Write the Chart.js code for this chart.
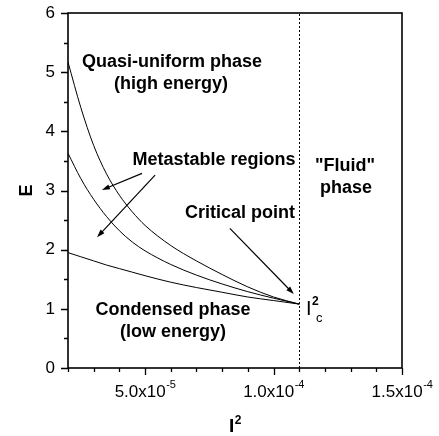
<!DOCTYPE html>
<html>
<head>
<meta charset="utf-8">
<script src="https://cdn.jsdelivr.net/npm/chart.js@4"></script>
<style>
  html, body { margin: 0; padding: 0; background: #fff; }
  canvas { display: block; }
</style>
</head>
<body>
<canvas id="c" width="439" height="436"></canvas>
<script>
// ---- data ----
const xValues = [2.0e-5, 2.5e-5, 3.0e-5, 3.5e-5, 4.0e-5, 4.5e-5, 5.0e-5, 6.0e-5, 7.0e-5, 8.0e-5, 9.0e-5, 1.0e-4, 1.1e-4];
const upperE  = [5.17, 4.40, 3.76, 3.28, 2.92, 2.64, 2.41, 2.07, 1.81, 1.58, 1.37, 1.20, 1.08];
const middleE = [3.63, 3.20, 2.85, 2.56, 2.32, 2.13, 1.98, 1.75, 1.57, 1.42, 1.29, 1.18, 1.08];
const lowerE  = [1.95, 1.88, 1.81, 1.74, 1.68, 1.62, 1.56, 1.45, 1.36, 1.28, 1.20, 1.14, 1.08];
const criticalI2 = 1.1e-4;
const xTickLabels = [[5e-5, '5.0', '-5'], [1e-4, '1.0', '-4'], [1.5e-4, '1.5', '-4']];
const yTickLabels = ['0', '1', '2', '3', '4', '5', '6'];
const textNotes = [
  ['Quasi-uniform phase', 6.05e-5, 5.17],
  ['(high energy)', 6.01e-5, 4.80],
  ['Metastable regions', 7.68e-5, 3.52],
  ['Critical point', 8.69e-5, 2.62],
  ['"Fluid"', 1.278e-4, 3.41],
  ['phase', 1.282e-4, 3.04],
  ['Condensed phase', 6.09e-5, 0.98],
  ['(low energy)', 6.09e-5, 0.61]
];
const arrowNotes = [
  [4.88e-5, 3.29, 3.32e-5, 3.01],
  [5.39e-5, 3.26, 3.13e-5, 2.21],
  [8.30e-5, 2.36, 1.079e-4, 1.25]
];

const FONT = '"Liberation Sans", Arial, Helvetica, sans-serif';
const pts = arr => xValues.map((x, i) => ({x: x, y: arr[i]}));

const decor = {
  id: 'decor',
  afterDraw(chart) {
    const ctx = chart.ctx, xs = chart.scales.x, ys = chart.scales.y, ca = chart.chartArea;
    ctx.save();
    ctx.strokeStyle = '#000';
    ctx.fillStyle = '#000';
    // frame
    ctx.lineWidth = 1.6;
    ctx.strokeRect(ca.left, ca.top, ca.right - ca.left, ca.bottom - ca.top);
    // ticks
    ctx.lineWidth = 1.3;
    ctx.beginPath();
    for (let k = 2; k <= 15; k++) {
      const px = Math.round(xs.getPixelForValue(k * 1e-5)) + 0.5;
      const len = (k % 5 === 0) ? 7 : 4;
      ctx.moveTo(px, ca.bottom); ctx.lineTo(px, ca.bottom + len);
    }
    for (let k = 0; k <= 12; k++) {
      const py = Math.round(ys.getPixelForValue(k * 0.5)) + 0.5;
      const len = (k % 2 === 0) ? 7 : 4;
      ctx.moveTo(ca.left, py); ctx.lineTo(ca.left - len, py);
    }
    ctx.stroke();
    // x tick labels with superscripts
    ctx.textBaseline = 'alphabetic';
    ctx.textAlign = 'left';
    xTickLabels.forEach(([v, m, e]) => {
      const main = m + 'x10';
      ctx.font = '17px ' + FONT;
      const w1 = ctx.measureText(main).width;
      ctx.font = '11px ' + FONT;
      const w2 = ctx.measureText(e).width;
      const cx = xs.getPixelForValue(v);
      const x0 = cx - (w1 + w2) / 2;
      ctx.font = '17px ' + FONT;
      ctx.fillText(main, x0, 397);
      ctx.font = '11px ' + FONT;
      ctx.fillText(e, x0 + w1 + 0.5, 388);
    });
    // x axis title I^2
    const tx = (ca.left + ca.right) / 2;
    ctx.font = 'bold 19px ' + FONT;
    const wi = ctx.measureText('I').width;
    ctx.font = 'bold 12px ' + FONT;
    const w2t = ctx.measureText('2').width;
    ctx.font = 'bold 19px ' + FONT;
    ctx.fillText('I', tx - (wi + w2t) / 2, 432);
    ctx.font = 'bold 12px ' + FONT;
    ctx.fillText('2', tx - (wi + w2t) / 2 + wi + 0.5, 424);
    // dotted critical line
    ctx.lineWidth = 1;
    ctx.setLineDash([2, 2]);
    const xc = Math.round(xs.getPixelForValue(criticalI2)) + 0.5;
    ctx.beginPath();
    ctx.moveTo(xc, ys.getPixelForValue(0));
    ctx.lineTo(xc, ys.getPixelForValue(6));
    ctx.stroke();
    ctx.setLineDash([]);
    // text notes
    ctx.font = 'bold 18px ' + FONT;
    ctx.textAlign = 'center';
    ctx.textBaseline = 'middle';
    textNotes.forEach(([t, x, y]) => {
      ctx.fillText(t, xs.getPixelForValue(x), ys.getPixelForValue(y));
    });
    // I^2_c label
    const lx = xs.getPixelForValue(1.126e-4), ly = ys.getPixelForValue(1.01);
    ctx.textAlign = 'left';
    ctx.textBaseline = 'alphabetic';
    ctx.font = '20px ' + FONT;
    ctx.fillText('I', lx, ly + 7);
    ctx.font = 'bold 12px ' + FONT;
    ctx.fillText('2', lx + 6, ly - 3);
    ctx.font = '13px ' + FONT;
    ctx.fillText('c', lx + 10, ly + 14);
    // arrows
    ctx.lineWidth = 1.2;
    arrowNotes.forEach(([x1, y1, x2, y2]) => {
      const p1x = xs.getPixelForValue(x1), p1y = ys.getPixelForValue(y1);
      const p2x = xs.getPixelForValue(x2), p2y = ys.getPixelForValue(y2);
      const ang = Math.atan2(p2y - p1y, p2x - p1x);
      const hl = 8, hw = 2.6;
      ctx.beginPath();
      ctx.moveTo(p1x, p1y);
      ctx.lineTo(p2x - Math.cos(ang) * hl * 0.8, p2y - Math.sin(ang) * hl * 0.8);
      ctx.stroke();
      ctx.beginPath();
      ctx.moveTo(p2x, p2y);
      ctx.lineTo(p2x - Math.cos(ang) * hl - Math.sin(ang) * hw, p2y - Math.sin(ang) * hl + Math.cos(ang) * hw);
      ctx.lineTo(p2x - Math.cos(ang) * hl + Math.sin(ang) * hw, p2y - Math.sin(ang) * hl - Math.cos(ang) * hw);
      ctx.closePath();
      ctx.fill();
    });
    ctx.restore();
  }
};

const lineStyle = {borderColor: '#000', borderWidth: 1, pointRadius: 0, fill: false,
                   tension: 0.4, cubicInterpolationMode: 'monotone'};

new Chart(document.getElementById('c'), {
  type: 'line',
  data: {
    datasets: [
      Object.assign({label: 'upper', data: pts(upperE)}, lineStyle),
      Object.assign({label: 'middle', data: pts(middleE)}, lineStyle),
      Object.assign({label: 'lower', data: pts(lowerE)}, lineStyle)
    ]
  },
  options: {
    responsive: false,
    devicePixelRatio: 1,
    animation: false,
    layout: {padding: {left: 0, right: 37, top: 13, bottom: 0}},
    plugins: {legend: {display: false}, tooltip: {enabled: false}},
    scales: {
      x: {
        type: 'linear', min: 2e-5, max: 1.5e-4,
        grid: {display: false},
        border: {display: false},
        ticks: {display: false, stepSize: 1e-5},
        title: {display: false},
        afterFit: s => { s.height = 68; s.paddingLeft = 0; s.paddingRight = 0; }
      },
      y: {
        type: 'linear', min: 0, max: 6,
        grid: {display: false},
        border: {display: false},
        ticks: {stepSize: 1, color: '#000', padding: 5,
                font: {family: FONT, size: 17},
                callback: (v, i) => yTickLabels[i]},
        title: {display: true, text: 'E', color: '#000',
                font: {family: FONT, size: 18, weight: 'bold'}, padding: {top: 16, bottom: 0}},
        afterFit: s => { s.width = 68; s.paddingTop = 0; s.paddingBottom = 0; }
      }
    }
  },
  plugins: [decor]
});
</script>
</body>
</html>
